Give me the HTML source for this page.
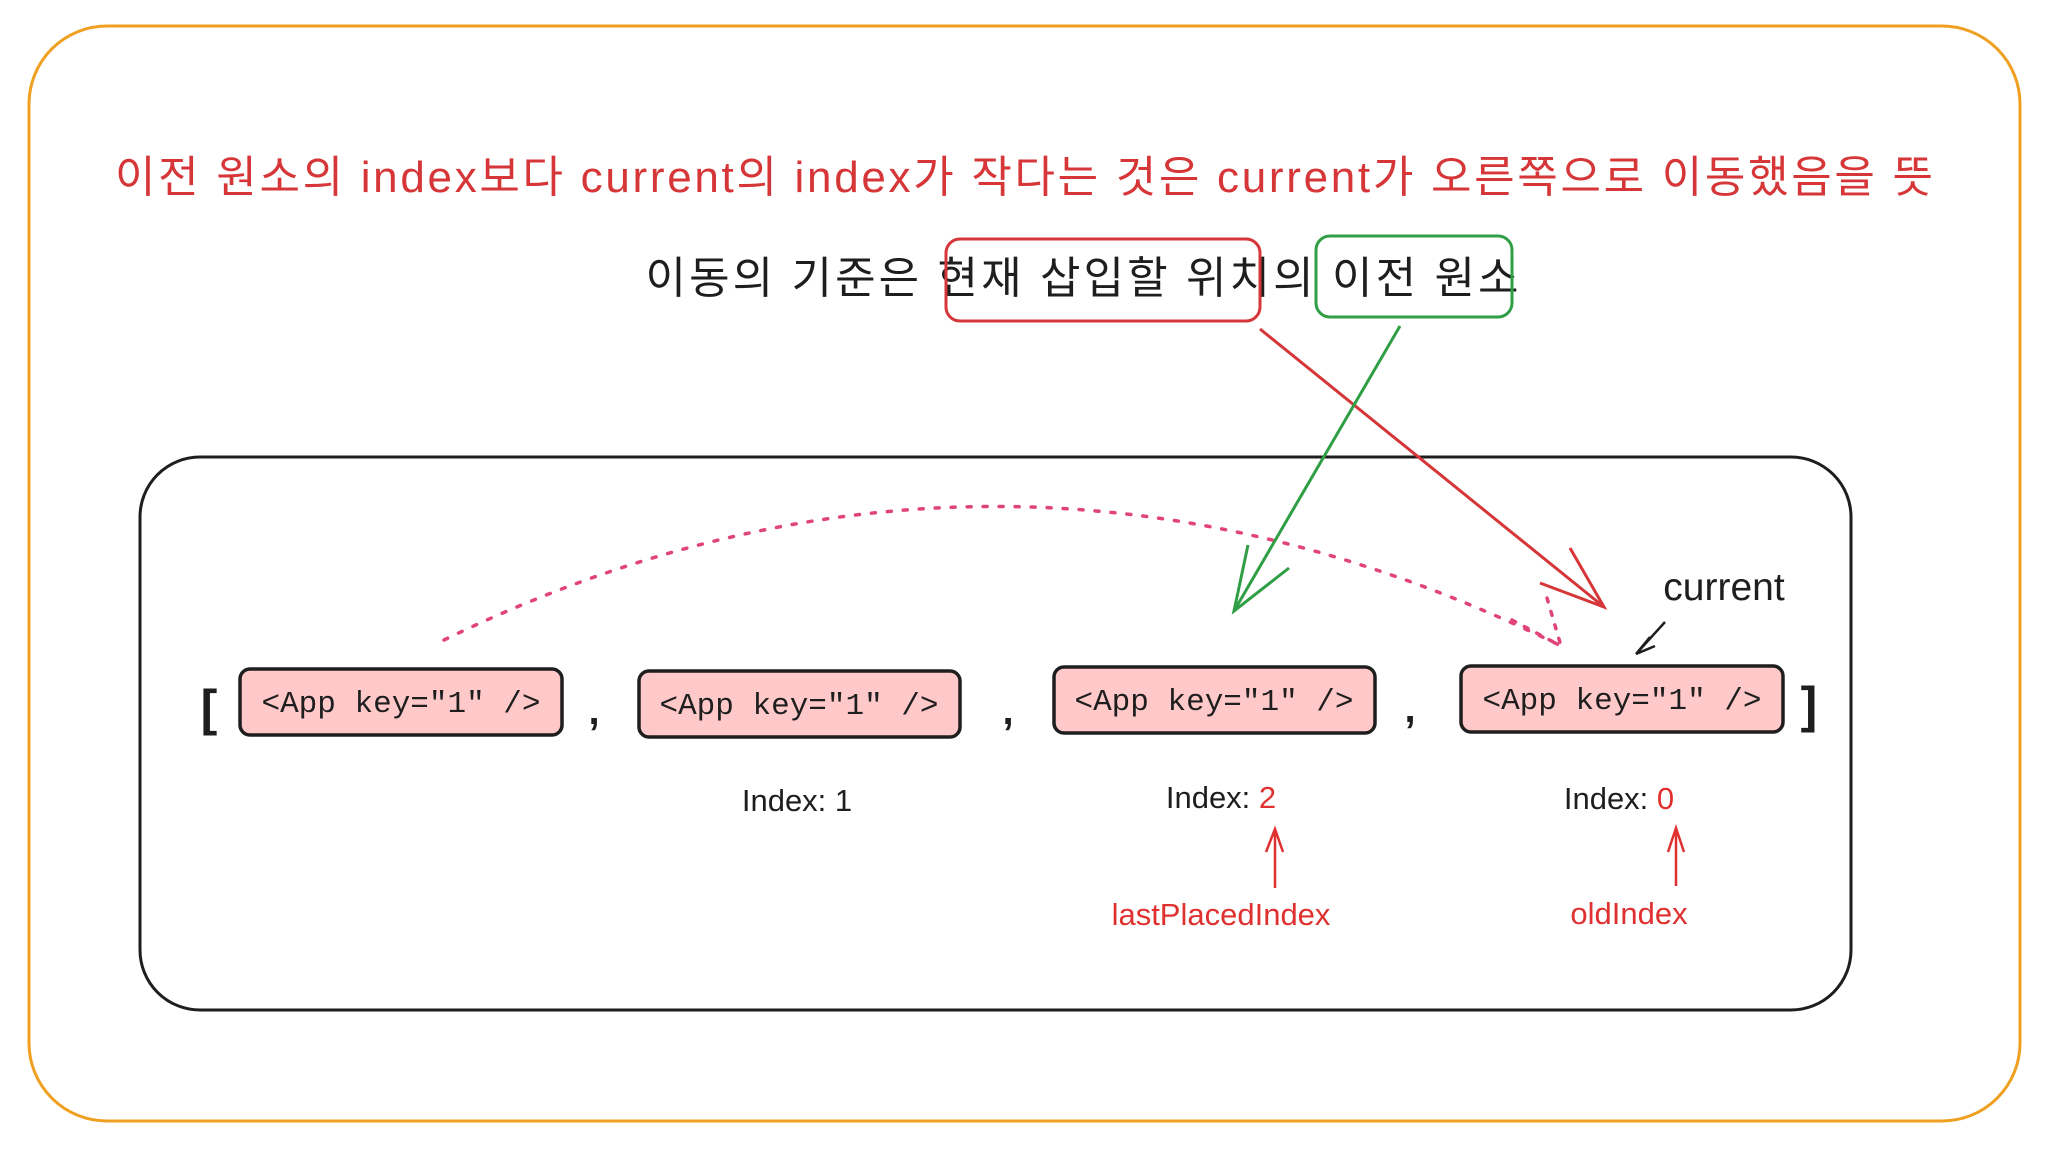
<!DOCTYPE html>
<html><head><meta charset="utf-8"><style>
html,body{margin:0;padding:0;background:#fff;width:2048px;height:1150px;overflow:hidden}
svg{display:block}
.ko{font-family:"Liberation Sans","Noto Sans CJK KR",sans-serif}
.m{font-family:"Liberation Mono","DejaVu Sans Mono",monospace;font-size:31px;fill:#1e1e1e}
.s{font-family:"Liberation Sans","DejaVu Sans",sans-serif}
</style></head><body>
<svg width="2048" height="1150" viewBox="0 0 2048 1150" xmlns="http://www.w3.org/2000/svg">
<rect x="29" y="26" width="1991" height="1095" rx="78" fill="none" stroke="#f0a020" stroke-width="3"/>
<text x="1024" y="192" text-anchor="middle" class="ko" font-size="44" fill="#d63638" textLength="1818" lengthAdjust="spacing">이전 원소의 index보다 current의 index가 작다는 것은 current가 오른쪽으로 이동했음을 뜻</text>
<text x="1082" y="293" text-anchor="middle" class="ko" font-size="44" fill="#1e1e1e" textLength="873" lengthAdjust="spacing">이동의 기준은 현재 삽입할 위치의 이전 원소</text>
<rect x="946" y="239" width="314" height="82" rx="14" fill="none" stroke="#d63638" stroke-width="3"/>
<rect x="1316" y="236" width="196" height="81" rx="14" fill="none" stroke="#2f9e44" stroke-width="3"/>
<rect x="140" y="457" width="1711" height="553" rx="60" fill="none" stroke="#1e1e1e" stroke-width="3"/>
<path d="M444 640 Q 1000 370 1561 646" fill="none" stroke="#e0447a" stroke-width="3.5" stroke-dasharray="4 12" stroke-linecap="round"/>
<path d="M1512 620 L1561 646 M1547 598 L1561 646" stroke="#e0447a" stroke-width="3.5" stroke-dasharray="4 10" stroke-linecap="round" fill="none"/>
<line x1="1260" y1="329" x2="1604" y2="607" stroke="#d63638" stroke-width="3"/>
<path d="M1570 548 L1604 607 L1540 583" fill="none" stroke="#d63638" stroke-width="3"/>
<line x1="1400" y1="326" x2="1234" y2="611" stroke="#2f9e44" stroke-width="3"/>
<path d="M1248 545 L1234 611 L1289 568" fill="none" stroke="#2f9e44" stroke-width="3"/>
<text x="1724" y="600" text-anchor="middle" class="s" font-size="39" fill="#1e1e1e">current</text>
<path d="M1665 622 L1636 654 M1636 654 L1650 637 M1636 654 L1655 646" stroke="#1e1e1e" stroke-width="2.5" fill="none"/>
<g stroke="#1e1e1e" stroke-width="3.5" fill="#ffc9c9">
<rect x="240" y="669" width="322" height="66" rx="10"/>
<rect x="639" y="671" width="321" height="66" rx="10"/>
<rect x="1054" y="667" width="321" height="66" rx="10"/>
<rect x="1461" y="666" width="322" height="66" rx="10"/>
</g>
<text x="401" y="712" text-anchor="middle" class="m">&lt;App key="1" /&gt;</text>
<text x="799" y="714" text-anchor="middle" class="m">&lt;App key="1" /&gt;</text>
<text x="1214" y="710" text-anchor="middle" class="m">&lt;App key="1" /&gt;</text>
<text x="1622" y="709" text-anchor="middle" class="m">&lt;App key="1" /&gt;</text>
<text x="209" y="725" text-anchor="middle" class="s" font-size="50" font-weight="bold" fill="#1e1e1e">[</text>
<text x="1809" y="722" text-anchor="middle" class="s" font-size="50" font-weight="bold" fill="#1e1e1e">]</text>
<text x="594" y="724" text-anchor="middle" class="s" font-size="40" font-weight="bold" fill="#1e1e1e">,</text>
<text x="1008" y="724" text-anchor="middle" class="s" font-size="40" font-weight="bold" fill="#1e1e1e">,</text>
<text x="1410" y="722" text-anchor="middle" class="s" font-size="40" font-weight="bold" fill="#1e1e1e">,</text>
<text x="797" y="811" text-anchor="middle" class="s" font-size="31" fill="#1e1e1e">Index: 1</text>
<text x="1221" y="808" text-anchor="middle" class="s" font-size="31" fill="#1e1e1e">Index: <tspan fill="#e03131">2</tspan></text>
<text x="1619" y="809" text-anchor="middle" class="s" font-size="31" fill="#1e1e1e">Index: <tspan fill="#e03131">0</tspan></text>
<path d="M1275 888 L1275 829 M1266 852 L1275 829 L1283 852" stroke="#e03131" stroke-width="2.5" fill="none"/>
<path d="M1676 886 L1676 828 M1668 852 L1676 828 L1684 852" stroke="#e03131" stroke-width="2.5" fill="none"/>
<text x="1221" y="925" text-anchor="middle" class="s" font-size="31" fill="#e03131">lastPlacedIndex</text>
<text x="1629" y="924" text-anchor="middle" class="s" font-size="31" fill="#e03131">oldIndex</text>
</svg>
</body></html>
